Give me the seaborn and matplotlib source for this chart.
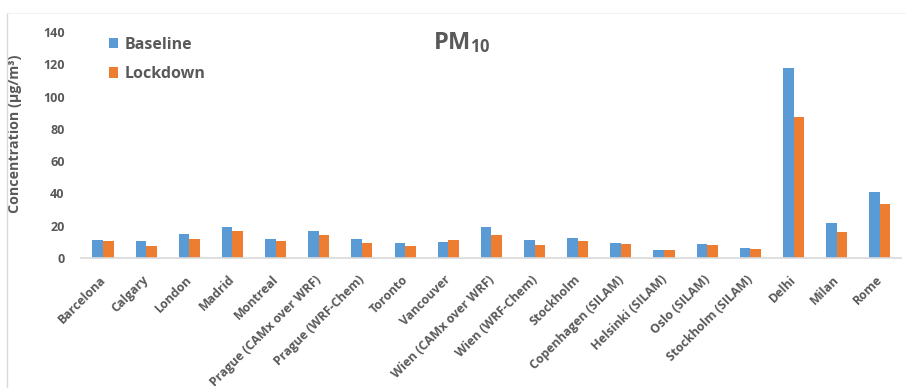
import matplotlib
matplotlib.use("Agg")
import matplotlib.pyplot as plt
import matplotlib.transforms as mtransforms
import seaborn as sns
import pandas as pd
from matplotlib.lines import Line2D

cities = [
    "Barcelona", "Calgary", "London", "Madrid", "Montreal",
    "Prague (CAMx over WRF)", "Prague (WRF-Chem)", "Toronto", "Vancouver",
    "Wien (CAMx over WRF)", "Wien (WRF-Chem)", "Stockholm",
    "Copenhagen (SILAM)", "Helsinki (SILAM)", "Oslo (SILAM)",
    "Stockholm (SILAM)", "Delhi", "Milan", "Rome",
]
baseline = [10.7, 10.3, 14.9, 18.8, 11.6, 16.3, 11.4, 9.1, 9.7,
            18.8, 11.2, 12.2, 9.3, 5.0, 8.3, 6.0, 118.0, 21.5, 41.0]
lockdown = [10.1, 7.4, 11.4, 16.3, 10.1, 14.1, 8.9, 7.4, 10.7,
            14.3, 8.1, 10.1, 8.7, 4.8, 8.1, 5.4, 87.4, 16.1, 33.3]
series = ["Baseline", "Lockdown"]
colors = ["#5B9BD5", "#ED7D31"]
yticks = [0, 20, 40, 60, 80, 100, 120, 140]

df = pd.DataFrame({
    "City": cities * 2,
    "Scenario": [series[0]] * len(cities) + [series[1]] * len(cities),
    "Value": baseline + lockdown,
})

sns.set_theme(style="white")
plt.rcParams["font.family"] = ["Open Sans", "DejaVu Sans"]
plt.rcParams["font.weight"] = "bold"
plt.rcParams["mathtext.fontset"] = "custom"
plt.rcParams["mathtext.rm"] = "Open Sans:bold"
plt.rcParams["mathtext.bf"] = "Open Sans:bold"

text_color = "#595959"

fig = plt.figure(figsize=(9.06, 3.88), dpi=100)
ax = fig.add_axes([0.0898, 0.3358, 0.9052, 0.581])

sns.barplot(data=df, x="City", y="Value", hue="Scenario", order=cities,
            hue_order=series, palette=colors, width=0.49, gap=0,
            linewidth=0, saturation=1, errorbar=None, ax=ax)

ax.set_ylim(0, 140)
ax.set_yticks(yticks)
ax.set_xlim(-0.5, len(cities) - 0.5)
ax.set_xlabel("")
ax.set_ylabel("Concentration (µg/m³)", fontsize=10.3, fontweight="bold",
              color=text_color)
ax.yaxis.set_label_coords(-0.0724, 0.552)
ax.tick_params(axis="both", length=0, colors=text_color)
ax.tick_params(axis="y", pad=12, labelsize=9)
for lab in ax.get_yticklabels():
    lab.set_fontweight("bold")
ax.set_xticks(range(len(cities)))
ax.set_xticklabels(cities, rotation=45, ha="right", va="top",
                   rotation_mode="anchor",
                   fontsize=8.9, fontweight="bold", color=text_color)
ax.tick_params(axis="x", pad=11)
shift = mtransforms.ScaledTranslation(-4 / 100, 0, fig.dpi_scale_trans)
for lab in ax.get_xticklabels():
    lab.set_transform(lab.get_transform() + shift)

for side in ["top", "right", "left"]:
    ax.spines[side].set_visible(False)
ax.spines["bottom"].set_color("#d9d9d9")
ax.spines["bottom"].set_linewidth(1.2)

leg = ax.legend(loc="upper left", bbox_to_anchor=(0.016, 1.045), frameon=False,
                fontsize=11.5, handlelength=0.6, handleheight=0.6,
                handletextpad=0.4, labelspacing=0.85)
for t in leg.get_texts():
    t.set_color(text_color)
    t.set_fontweight("bold")

fig.text(0.51, 0.89, r"$\mathrm{PM_{10}}$", ha="center", va="center",
         fontsize=17, color=text_color)

# light chart-area frame on the left and top
fig.add_artist(Line2D([0.0075, 0.0075], [0.0, 0.967], color="#d9d9d9", lw=1.0))
fig.add_artist(Line2D([0.0075, 1.0], [0.967, 0.967], color="#f2f2f2", lw=0.8))

fig.savefig("out.png", dpi=100)
